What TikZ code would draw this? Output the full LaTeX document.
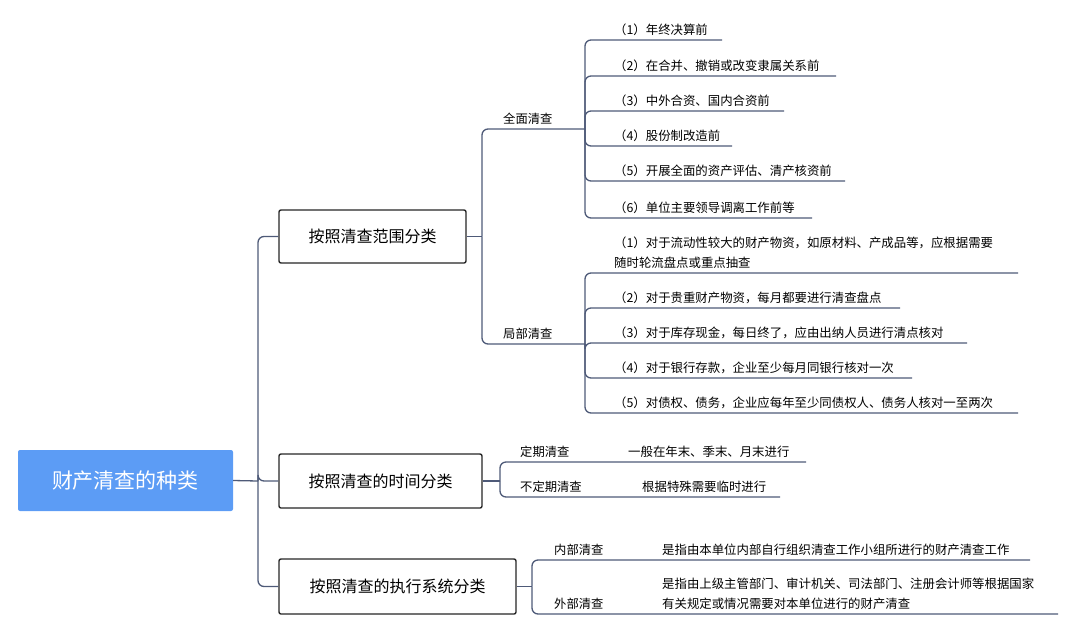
\documentclass[tikz,border=0pt]{standalone}
\usepackage{fontspec}
\setmainfont{Noto Sans CJK SC}
\usepackage{tikz}
\usepackage{xcolor}
\definecolor{linkblue}{RGB}{78,90,120}
\definecolor{rootblue}{RGB}{92,156,245}

\tikzset{
  link/.style={draw=linkblue, line width=1.3pt, rounded corners=6pt},
  cat/.style={draw=black!85, line width=1.4pt, fill=white, rounded corners=2pt, font=\fontsize{16}{19}\selectfont, inner sep=0pt},
  sub/.style={anchor=south west, inner sep=0pt, inner ysep=4pt, font=\fontsize{12.3}{19}\selectfont},
  leaf/.style={anchor=south west, inner sep=0pt, inner ysep=4pt, align=left, font=\fontsize{12.4}{20}\selectfont}
}

\begin{document}
\begin{tikzpicture}[x=1pt, y=-1pt]
    \useasboundingbox (0,0) rectangle (1080,633);

    % Root
    \node[fill=rootblue, rounded corners=2pt, minimum width=215pt, minimum height=61pt, text=white, font=\fontsize{21}{24}\selectfont] (root) at (125.5,480.5) {财产清查的种类};

    % Categories
    \node[cat, minimum width=187pt, minimum height=53pt] (range) at (372.5,236.5) {按照清查范围分类};
    \node[cat, minimum width=203pt, minimum height=54pt] (time) at (380.5,481) {按照清查的时间分类};
    \node[cat, minimum width=237pt, minimum height=55pt] (exec) at (397.5,586.5) {按照清查的执行系统分类};

    \coordinate (fork) at (258,481);
    \draw[link] (root.east) -- (fork);
    \draw[link] (fork) |- (range.west);
    \draw[link] (fork) |- (time.west);
    \draw[link] (fork) |- (exec.west);

    % Range: full and partial
    \coordinate (fr) at (482,236.5);
    \coordinate (qm) at (585,129);
    \coordinate (jb) at (585,344);
    \draw[link] (range.east) -- (fr);
    \draw[link] (fr) |- (qm);
    \draw[link] (fr) |- (jb);
    \node[sub] (qmText) at (503,129) {全面清查};
    \node[sub] (jbText) at (503,344) {局部清查};

    \node[leaf] (q1) at (614,40) {（1）年终决算前};
    \node[leaf] (q2) at (614,76) {（2）在合并、撤销或改变隶属关系前};
    \node[leaf] (q3) at (614,111) {（3）中外合资、国内合资前};
    \node[leaf] (q4) at (614,146) {（4）股份制改造前};
    \node[leaf] (q5) at (614,181) {（5）开展全面的资产评估、清产核资前};
    \node[leaf] (q6) at (614,218) {（6）单位主要领导调离工作前等};
    \foreach \n/\e in {q1/722,q2/836,q3/784,q4/732,q5/845,q6/812}
        \draw[link] (qm) |- (\e,0 |- \n.south);

    \node[leaf] (j1) at (614,273) {（1）对于流动性较大的财产物资，如原材料、产成品等，应根据需要\\随时轮流盘点或重点抽查};
    \node[leaf] (j2) at (614,308) {（2）对于贵重财产物资，每月都要进行清查盘点};
    \node[leaf] (j3) at (614,343) {（3）对于库存现金，每日终了，应由出纳人员进行清点核对};
    \node[leaf] (j4) at (614,378) {（4）对于银行存款，企业至少每月同银行核对一次};
    \node[leaf] (j5) at (614,413) {（5）对债权、债务，企业应每年至少同债权人、债务人核对一至两次};
    \foreach \n/\e in {j1/1018,j2/900,j3/967,j4/912,j5/1018}
        \draw[link] (jb) |- (\e,0 |- \n.south);

    % Time
    \coordinate (ft) at (500,481);
    \draw[link] (time.east) -- (ft);
    \node[sub] (dq) at (520,462) {定期清查};
    \node[sub] (bdq) at (520,497) {不定期清查};
    \node[leaf] (t1) at (628,462) {一般在年末、季末、月末进行};
    \node[leaf] (t2) at (642,497) {根据特殊需要临时进行};
    \draw[link] (ft) |- (806,0 |- t1.south);
    \draw[link] (ft) |- (780,0 |- t2.south);

    % Execution
    \coordinate (fe) at (532,586.5);
    \draw[link] (exec.east) -- (fe);
    \node[sub] (nb) at (554,560) {内部清查};
    \node[sub] (wb) at (554,614) {外部清查};
    \node[leaf] (e1) at (662,560) {是指由本单位内部自行组织清查工作小组所进行的财产清查工作};
    \node[leaf] (e2) at (662,614) {是指由上级主管部门、审计机关、司法部门、注册会计师等根据国家\\有关规定或情况需要对本单位进行的财产清查};
    \draw[link] (fe) |- (1030,0 |- e1.south);
    \draw[link] (fe) |- (1058,0 |- e2.south);
\end{tikzpicture}
\end{document}
